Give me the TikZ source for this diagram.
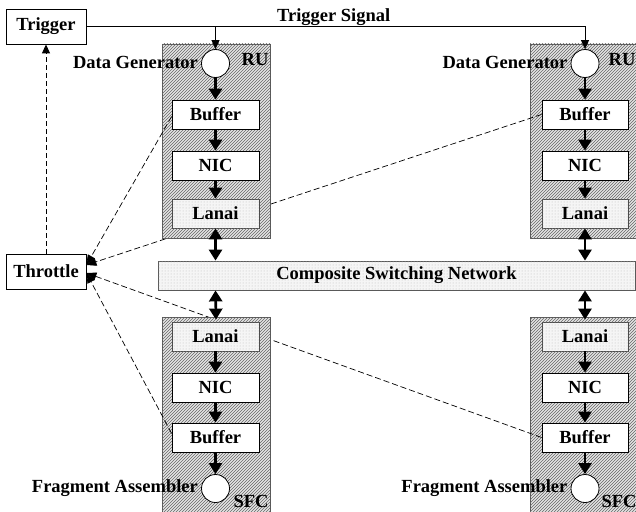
\documentclass[tikz,border=0pt]{standalone}
\usepackage{fontspec}
\setmainfont{Liberation Serif}
\usetikzlibrary{arrows.meta,patterns,calc}
\begin{document}
\begin{tikzpicture}[x=1pt,y=-1pt,
  font=\fontsize{18.5}{20}\selectfont\bfseries,
  unit/.style={draw=black!65, line width=0.8pt, fill=gray!20,
    postaction={pattern=north east lines, pattern color=black!60},
    minimum width=108pt, minimum height=194pt, inner sep=0pt},
  box/.style={draw, line width=0.8pt, fill=white, minimum width=87pt,
    minimum height=29pt, inner sep=0pt},
  lanai/.style={box, draw=black!70, fill=gray!8,
    postaction={pattern=dots, pattern color=gray!55}},
  net/.style={draw=black!65, line width=0.8pt, fill=gray!8,
    postaction={pattern=dots, pattern color=gray!55},
    minimum width=477pt, minimum height=29pt, inner sep=0pt},
  plain/.style={draw, line width=0.8pt, fill=white, minimum width=80pt,
    minimum height=35pt, inner sep=0pt},
  gen/.style={circle, draw, fill=white, minimum size=28pt, inner sep=0pt,
    line width=0.8pt},
  lbl/.style={inner sep=0pt},
  flow/.style={line width=2.6pt, -{Triangle[length=11pt,width=13pt]}},
  bidir/.style={line width=2.6pt,
    {Triangle[length=11pt,width=13pt]}-{Triangle[length=11pt,width=13pt]}},
  sig/.style={line width=0.9pt, -{Triangle[length=9pt,width=8pt]}},
  thr/.style={line width=0.7pt, dash pattern=on 6pt off 3pt,
    -{Triangle[length=10pt,width=8pt]}},
  fb/.style={line width=1pt, dash pattern=on 5pt off 3pt,
    -{Triangle[length=9pt,width=8pt]}}
]
\useasboundingbox (0,0) rectangle (636,511);

% ---- column 2 (drawn first)
\node[unit, minimum width=110pt] (ru2) at (585,141) {};
\node[unit, minimum width=110pt, minimum height=203pt] (sfc2) at (585,418.5) {};
\node[gen] (gen2) at (585,63.5) {};
\node[box, minimum width=86pt] (buf2) at (585,114.5) {Buffer};
\node[box, minimum width=86pt] (nic2) at (585,165.5) {NIC};
\node[lanai, minimum width=86pt] (lan2) at (585,213.5) {Lanai};
\node[lanai, minimum width=86pt] (lanS2) at (585,336.5) {Lanai};
\node[box, minimum width=86pt] (nicS2) at (585,387.5) {NIC};
\node[box, minimum width=86pt] (bufS2) at (585,437.5) {Buffer};
\node[gen] (asm2) at (585,488.5) {};

% ---- trigger, throttle, network
\node[plain] (trigger) at (46,26.5) {Trigger};
\node[plain] (throttle) at (46,271.5) {Throttle};
\node[net] (net) at (396.5,275.5) {Composite Switching Network};

\coordinate (thrA) at ($(throttle.east)+(0,-6.5)$);
\coordinate (thrB) at ($(throttle.east)+(0,1.5)$);

% dashed lines passing behind column 1
\draw[thr] (buf2.west) -- (thrA);
\draw[thr] (bufS2.west) -- (thrB);

% ---- column 1
\node[unit] (ru1) at (216,141) {};
\node[unit, minimum height=203pt] (sfc1) at (216,418.5) {};
\node[gen] (gen1) at (215.5,63.5) {};
\node[box] (buf1) at (215.5,114.5) {Buffer};
\node[box] (nic1) at (215.5,165.5) {NIC};
\node[lanai] (lan1) at (215.5,213.5) {Lanai};
\node[lanai] (lanS1) at (215.5,336.5) {Lanai};
\node[box] (nicS1) at (215.5,387.5) {NIC};
\node[box] (bufS1) at (215.5,437.5) {Buffer};
\node[gen] (asm1) at (215.5,488.5) {};

\draw[thr] ($(buf1.west)+(0,2)$) -- (thrA);
\draw[thr] ($(bufS1.west)+(0,-4)$) -- (thrB);

% ---- throttle to trigger
\draw[fb] (throttle.north) -- (trigger.south);

% ---- trigger signal
\draw[sig] (trigger.east) -- (trigger.east -| gen2) -- (gen2.north);
\draw[sig] (trigger.east -| gen1) -- (gen1.north);
\node[anchor=south, inner sep=1pt] (tsig) at ($(trigger.east)!0.5!(trigger.east -| gen2)+(-2,0)$) {Trigger Signal};

% ---- flows
\foreach \c in {1,2}{
  \draw[flow] (gen\c.south) -- (buf\c.north);
  \draw[flow] (buf\c.south) -- (nic\c.north);
  \draw[flow] (nic\c.south) -- (lan\c.north);
  \draw[bidir] (lan\c.south) -- (lan\c.south |- net.north);
  \draw[bidir] (lanS\c.north |- net.south) -- ($(sfc\c.north)+(0,3)$);
  \draw[flow] (lanS\c.south) -- (nicS\c.north);
  \draw[flow] (nicS\c.south) -- (bufS\c.north);
  \draw[flow] (bufS\c.south) -- (asm\c.north);
}

% ---- labels
\node[lbl, anchor=east] (dg1) at ([xshift=-3pt,yshift=1pt]gen1.west) {Data Generator};
\node[lbl, anchor=east] (dg2) at ([xshift=-3pt,yshift=1pt]gen2.west) {Data Generator};
\node[lbl, anchor=east] (fa1) at ([xshift=-3pt,yshift=0pt]asm1.west) {Fragment Assembler};
\node[lbl, anchor=east] (fa2) at ([xshift=-3pt,yshift=0pt]asm2.west) {Fragment Assembler};
\node[lbl] (ru1l) at (255,60) {RU};
\node[lbl] (ru2l) at (622,60) {RU};
\node[lbl] (sfc1l) at (251,501) {SFC};
\node[lbl] (sfc2l) at (619,501) {SFC};
\end{tikzpicture}
\end{document}
